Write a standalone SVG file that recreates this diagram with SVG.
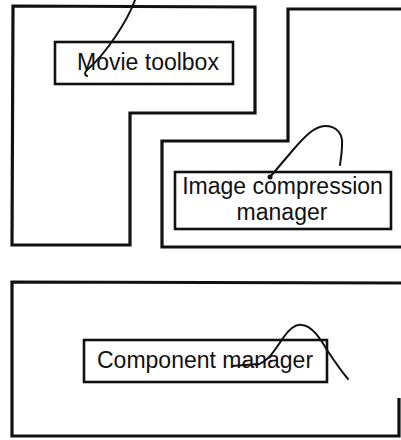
<svg xmlns="http://www.w3.org/2000/svg" width="401" height="440" viewBox="0 0 401 440">
  <style>
    .frame { fill: none; stroke: #111; stroke-width: 3.2; stroke-linejoin: miter; }
    .box { fill: #fff; stroke: #111; stroke-width: 2.6; }
    .label { font-family: "Liberation Sans", Arial, sans-serif; font-size: 23px; fill: #111; }
    .link { fill: none; stroke: #111; stroke-width: 2; stroke-linecap: round; }
  </style>
  <rect width="401" height="440" fill="#fff"/>

  <!-- Movie toolbox: L-shaped region with its label box -->
  <g id="movie-toolbox">
    <polygon class="frame" points="13,6 255,7 255,113 130,113 130,245 12,245"/>
    <rect class="box" x="55" y="42" width="178" height="42"/>
    <text class="label" x="77" y="70">Movie toolbox</text>
  </g>

  <!-- Image compression manager: region running off the right edge -->
  <g id="image-compression-manager">
    <polyline class="frame" points="403,9 288,9 288,141 162,141 162,247 403,247"/>
    <rect class="box" x="175" y="172" width="216" height="57"/>
    <text class="label" x="282.5" y="194" text-anchor="middle">Image compression</text>
    <text class="label" x="282" y="220" text-anchor="middle">manager</text>
  </g>

  <!-- Component manager: wide bottom region -->
  <g id="component-manager">
    <path class="frame" d="M 403,283 L 12,282 L 12,436 L 399,436 L 399,398"/>
    <rect class="box" x="84" y="340" width="243" height="42"/>
    <text class="label" x="97" y="368">Component manager</text>
  </g>

  <!-- Hand-drawn connector strokes -->
  <g id="connectors">
    <path class="link" stroke-width="3" d="M 135,0 C 128,20 106,54 87,70 Q 83,74 87,76"/>
    <path class="link" d="M 270,177 L 293,150 C 305,136 315,126 325,126 C 337,126 343,134 342,145 C 342,152 341,158 340,165"/>
    <circle cx="270" cy="177" r="2.5" fill="#111"/>
    <path class="link" stroke-width="4" d="M 232,366 L 258,364"/>
    <path class="link" d="M 256,365 C 268,362 275,350 283,338 C 290,328 296,324 302,325 C 312,326 320,338 327,350 C 335,362 342,372 348,379"/>
  </g>
</svg>
